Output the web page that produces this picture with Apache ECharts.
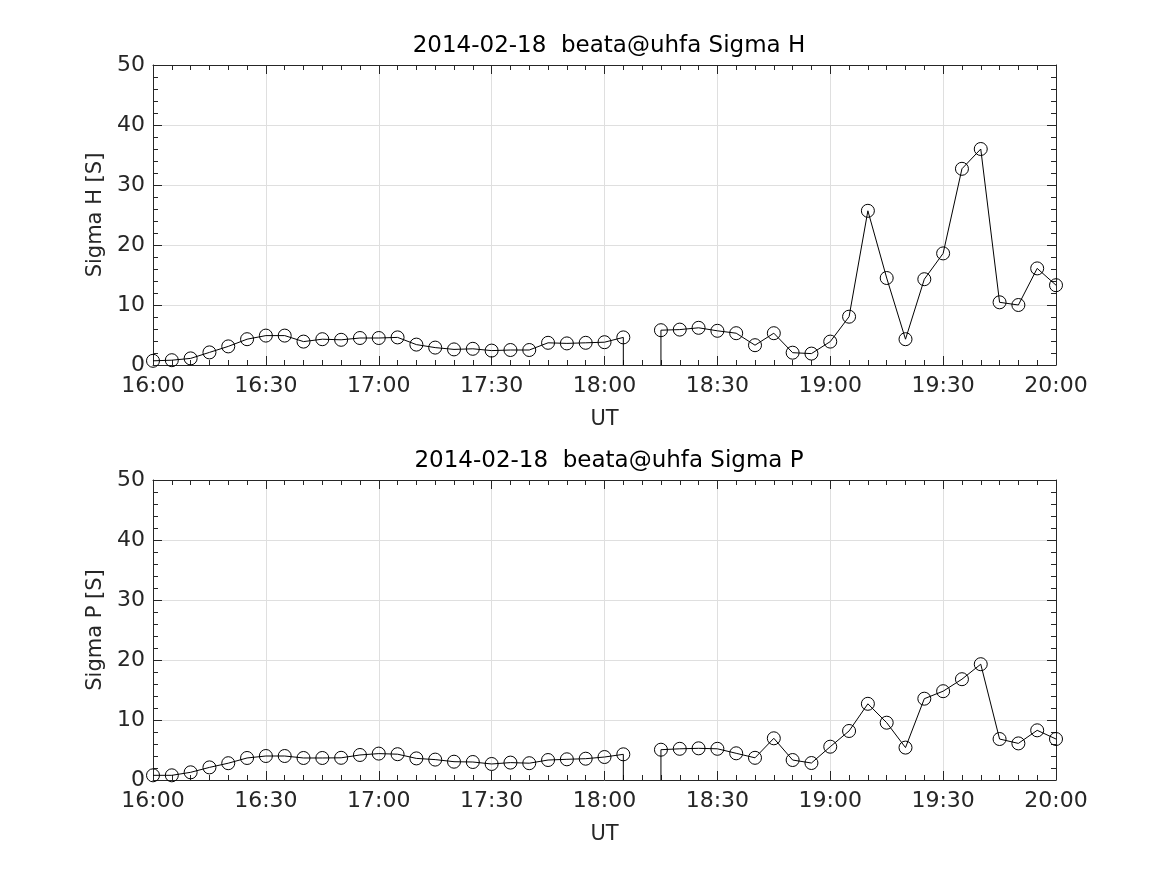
<!DOCTYPE html>
<html><head><meta charset="utf-8">
<script src="https://cdn.jsdelivr.net/npm/echarts@6/dist/echarts.min.js"></script>
<style>html,body{margin:0;padding:0;background:#fff}#c{width:1167px;height:875px}</style>
</head><body><div id="c"></div>
<script>
const times = ['16:00','16:05','16:10','16:15','16:20','16:25','16:30','16:35','16:40','16:45','16:50','16:55',
 '17:00','17:05','17:10','17:15','17:20','17:25','17:30','17:35','17:40','17:45','17:50','17:55',
 '18:00','18:05','18:10','18:15','18:20','18:25','18:30','18:35','18:40','18:45','18:50','18:55',
 '19:00','19:05','19:10','19:15','19:20','19:25','19:30','19:35','19:40','19:45','19:50','19:55','20:00'];
const sigmaH = [0.7,0.8,1.1,2.1,3.1,4.3,4.9,4.9,3.9,4.3,4.2,4.5,
 4.5,4.6,3.4,2.9,2.6,2.7,2.4,2.5,2.5,3.7,3.6,3.7,
 3.8,4.6,null,5.8,5.9,6.2,5.7,5.3,3.3,5.3,2.05,1.9,
 3.9,8.05,25.7,14.5,4.3,14.3,18.6,32.7,36.0,10.45,10.0,16.1,13.3];
const sigmaP = [0.78,0.78,1.28,2.1,2.8,3.67,4.0,4.0,3.67,3.67,3.7,4.17,
 4.4,4.3,3.6,3.4,3.05,3.0,2.67,2.9,2.8,3.33,3.45,3.55,
 3.83,4.28,null,5.05,5.2,5.28,5.2,4.45,3.7,6.95,3.33,2.83,
 5.55,8.17,12.7,9.55,5.4,13.55,14.8,16.8,19.3,6.83,6.1,8.28,6.83];
const titles = ['2014-02-18  beata@uhfa Sigma H','2014-02-18  beata@uhfa Sigma P'];
const yNames = ['Sigma H [S]','Sigma P [S]'];
const xName = 'UT';

const FONT = 'DejaVu Sans';
const TXT = '#262626';
const toMin = s => { const [h,m] = s.split(':').map(Number); return (h-16)*60+m; };
const fmt = v => { const h = 16 + Math.floor(v/60), m = v%60; return h + ':' + String(m).padStart(2,'0'); };

const gridTops = [65, 480];
const grids = gridTops.map(t => ({left:153, right:111, top:t, height:300}));

const xAxis = [], yAxis = [], series = [];
const tickBase = {inside:true, length:9, lineStyle:{color:TXT, width:1}};
[0,1].forEach(g => {
  const common = {type:'value', gridIndex:g, min:0, max:240, interval:30,
    axisLine:{show:true, onZero:false, lineStyle:{color:TXT, width:1}},
    axisTick:tickBase, minorTick:{show:true, splitNumber:6, length:5, lineStyle:{color:TXT, width:1}}};
  xAxis.push(Object.assign({}, common, {position:'bottom', name:xName, nameLocation:'middle', nameGap:44,
    nameTextStyle:{fontFamily:FONT, fontSize:21, color:TXT},
    axisLabel:{formatter:fmt, fontFamily:FONT, fontSize:22, color:TXT, margin:10},
    splitLine:{show:true, lineStyle:{color:'#dfdfdf', width:1}}}));
  xAxis.push(Object.assign({}, common, {position:'top', axisLabel:{show:false}, splitLine:{show:false}}));
  const yc = {type:'value', gridIndex:g, min:0, max:50, interval:10,
    axisLine:{show:true, onZero:false, lineStyle:{color:TXT, width:1}},
    axisTick:tickBase, minorTick:{show:true, splitNumber:5, length:5, lineStyle:{color:TXT, width:1}}};
  yAxis.push(Object.assign({}, yc, {position:'left', name:yNames[g], nameLocation:'middle', nameGap:44,
    nameTextStyle:{fontFamily:FONT, fontSize:21, color:TXT},
    axisLabel:{fontFamily:FONT, fontSize:22, color:TXT, margin:8},
    splitLine:{show:true, lineStyle:{color:'#dfdfdf', width:1}}}));
  yAxis.push(Object.assign({}, yc, {position:'right', axisLabel:{show:false}, splitLine:{show:false}}));
});

[sigmaH, sigmaP].forEach((vals, g) => {
  const data = times.map((t,i) => [toMin(t), vals[i]]);
  series.push({type:'line', xAxisIndex:2*g, yAxisIndex:2*g, data:data, connectNulls:false, clip:false,
    symbol:'circle', symbolSize:13, showSymbol:true,
    lineStyle:{color:'#000', width:1},
    itemStyle:{color:'rgba(0,0,0,0)', borderColor:'#000', borderWidth:1},
    emphasis:{disabled:true}, animation:false, z:5});
  vals.forEach((v,i) => {
    if (v === null) {
      const a = i-1, b = i+1;
      if (a >= 0 && vals[a] !== null)
        series.push({type:'line', xAxisIndex:2*g, yAxisIndex:2*g, showSymbol:false, symbol:'none', animation:false,
          lineStyle:{color:'#000', width:1}, data:[[toMin(times[a]), vals[a]],[toMin(times[a]), 0]], z:5});
      if (b < vals.length && vals[b] !== null)
        series.push({type:'line', xAxisIndex:2*g, yAxisIndex:2*g, showSymbol:false, symbol:'none', animation:false,
          lineStyle:{color:'#000', width:1}, data:[[toMin(times[b]), 0],[toMin(times[b]), vals[b]]], z:5});
    }
  });
});

const chart = echarts.init(document.getElementById('c'), null, {renderer:'canvas'});
chart.setOption({
  backgroundColor:'#fff',
  animation:false,
  title: titles.map((t,g) => ({text:t, left:604, top:gridTops[g]-35, textAlign:'center',
    textStyle:{fontFamily:FONT, fontSize:23, fontWeight:'normal', color:'#000'}})),
  grid: grids, xAxis: xAxis, yAxis: yAxis, series: series
});
</script></body></html>
